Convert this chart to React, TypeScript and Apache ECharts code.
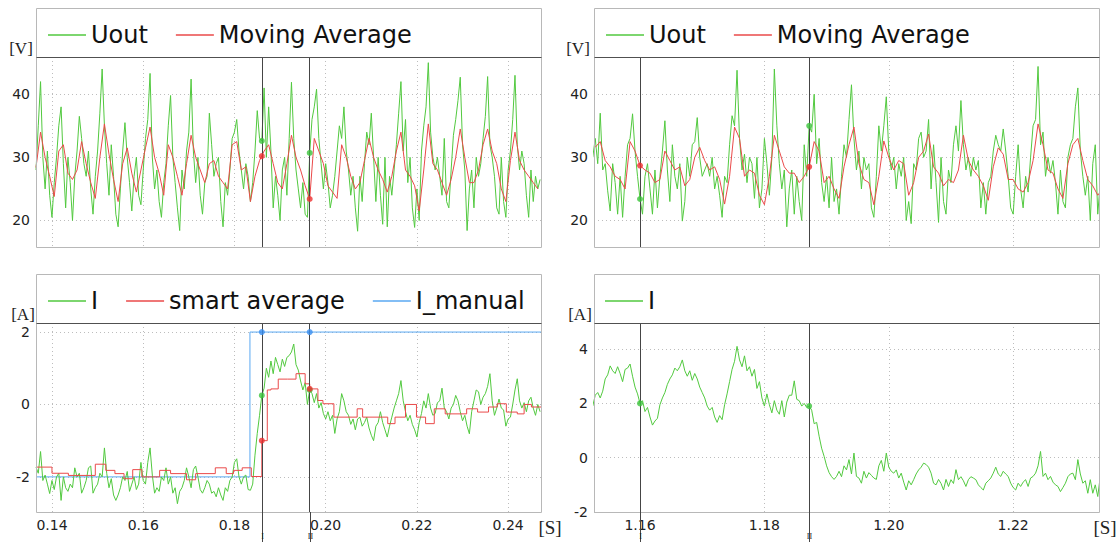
import React, { useEffect, useRef } from "react";
import * as echarts from "echarts";

// ---------- Top-left: Uout / Moving Average (0.1365 .. 0.2472 s) ----------
const uoutLeftStart = 0.1365;
const uoutLeftStep = 0.0005;
const uoutLeft = [
  28, 35, 42, 30, 25, 31, 24, 20.5, 26, 30,
  35, 38, 29, 22, 30, 26, 20, 27, 31, 36.5,
  33, 29, 27, 31, 25, 21, 27, 31, 37, 44,
  35, 29, 24, 32, 27, 21, 19, 25, 31, 35.5,
  30, 26, 21.5, 27, 30, 24, 22.5, 28, 33, 36,
  43.3, 30, 25, 28, 23, 20.5, 26, 29, 35, 39.8,
  30, 26, 22, 18.4, 28, 25, 31, 34, 42.4, 31,
  26, 30, 24, 21, 26, 27, 37, 32, 27, 29,
  30, 23, 19, 26, 24, 28, 33, 34, 36, 31,
  28, 25, 29, 27, 23, 26, 31, 37.4, 33, 32.6,
  41, 30, 38, 31, 22, 27, 24, 20, 28, 30,
  24, 33, 41.9, 33, 28, 25, 22, 26, 21, 20.5,
  30.7, 36, 38, 40.8, 33, 29, 25, 29, 26, 22,
  24, 27, 31, 35, 33, 38, 31, 28, 24, 27,
  22, 18.3, 27, 23, 29, 34, 32, 37, 30, 23,
  30, 24, 19.4, 30, 19, 27, 24, 28, 32, 37,
  42, 31, 36, 26, 30, 22, 18.9, 25, 20, 31,
  35, 38, 45, 34, 30, 28, 30, 27, 24, 33,
  23, 22, 28, 33.5, 36, 39, 42.7, 32, 28, 18.4,
  25, 28, 22, 30, 27, 29, 33, 36.5, 42.8, 32,
  30, 27, 22, 21, 30, 23, 20.5, 28, 31, 36,
  43, 32, 28, 31, 29, 24, 20.5, 28, 23, 27,
  25, 26.5,
];
const maLeftStart = 0.1365;
const maLeftStep = 0.001;
const maLeft = [
  28.4, 34, 30, 27, 23.8, 31, 32, 27.5, 26.5, 28,
  32.5, 29, 26, 23.5, 30, 35.3, 30.5, 26.5, 23, 29,
  31.5, 27.5, 24.5, 28, 31.5, 34.8, 30, 27.5, 24, 32,
  30, 27, 24, 29, 33.5, 30, 28, 26, 29, 29.5,
  27, 26, 25, 32, 32.5, 28, 28.5, 23, 27, 29.5,
  31, 32, 29, 26, 25, 29, 33.5, 30, 28, 25.5,
  23.4, 33, 31, 29, 25.5, 24.5, 23.5, 32, 30, 27,
  25, 26, 29.5, 33, 30, 28, 26.5, 24.5, 27, 31,
  34, 28, 27, 25.5, 21.5, 28, 35.3, 29, 28, 26,
  24, 26.5, 30, 34.5, 30, 26, 26, 28, 32, 34.5,
  31, 29, 25, 23, 29.5, 34, 29.5, 28, 27, 26, 25,
];
const cursorsLeft = [0.186, 0.1965];
const uoutDotsLeft = [32.6, 30.7];
const maDotsLeft = [30.2, 23.4];

// ---------- Top-right: Uout / Moving Average (1.1526 .. 1.2338 s) ----------
const uoutRightStart = 1.1524;
const uoutRightStep = 0.0004;
const uoutRight = [
  30, 33, 29, 37, 28, 29, 24.7, 21.5, 29, 26,
  21, 27, 20.5, 27, 32, 33, 36.9, 31, 27, 23.4,
  21, 27, 29, 25, 21, 28, 22, 27, 31, 35.8,
  28, 23, 32, 27, 25, 29, 19.9, 23, 30, 27,
  32, 32.5, 36.3, 30, 27, 28, 29, 27, 30, 25,
  27, 24, 20.5, 27, 26, 32, 36.6, 35, 43.8, 33,
  28, 30.5, 26, 30, 29, 23.5, 30, 22, 25, 33,
  29, 24, 30, 44, 35, 29, 25, 28, 19, 25,
  28, 21, 27, 23, 20, 32, 27, 35, 34, 40,
  29, 33, 26, 23, 27, 22, 30, 23, 25, 21,
  27, 32, 30, 36, 41.5, 33, 28, 31, 25, 30,
  28, 29, 22, 20.5, 27, 35, 31, 35, 39.6, 31,
  28, 30, 25, 29, 27, 30, 20, 23, 19.5, 29,
  28, 33, 34, 30, 31, 36, 25, 32, 26, 19.7,
  30, 23, 21, 28, 26, 32, 35, 31, 39, 32,
  28, 30, 27, 30, 28, 29.5, 22, 26, 21, 26,
  27, 31, 33.5, 32, 31, 34.5, 31, 27, 22, 21,
  27, 32, 25, 22, 27, 24.5, 30, 35, 36, 44.4,
  32, 34, 27, 30, 27.5, 29.5, 26, 21, 28, 23,
  22, 30, 32, 33, 38, 41, 31, 27, 24, 27,
  20, 29, 32, 21, 26,
];
const maRightStart = 1.1528;
const maRightStep = 0.0008;
const maRight = [
  31.6, 32.5, 29.5, 28.5, 27, 26.5, 25, 32.5, 31, 28.7,
  28, 27.5, 26, 26.5, 31, 29.5, 28, 28.5, 25.5, 26.5,
  30, 31.6, 29.5, 28, 28.5, 26.5, 22.6, 27, 34.8, 33,
  27, 28, 27.5, 24, 22.5, 27, 33.5, 31, 28.5, 27.5,
  27.5, 26, 27, 28.5, 32.5, 31, 26, 27, 25, 23.5,
  28.5, 32, 34.8, 29, 26.5, 26, 22.5, 27, 32.6, 30,
  28, 29.5, 29, 24, 26, 30, 31, 33.7, 28.5, 27.5,
  25.5, 26.5, 26, 28, 33.5, 29.5, 28, 27, 25.5, 23.2,
  28.5, 31.5, 30.5, 26.5, 26.5, 25, 24.5, 26, 29.5, 35.3,
  32, 28, 27.5, 25, 23.5, 29, 32, 33, 29.5, 26.5,
  25.5, 24, 25,
];
const cursorsRight = [1.16, 1.1872];
const uoutDotsRight = [23.4, 35.0];
const maDotsRight = [28.7, 28.5];

// ---------- Bottom-left: I / smart average / I_manual ----------
const iLeftStart = 0.1365;
const iLeftStep = 0.0005;
const iLeft = [
  -1.73, -1.9, -1.3, -2.1, -1.95, -2.2, -2.46, -2.1, -2.35, -2.0,
  -1.9, -2.65, -2.0, -2.3, -2.4, -2.2, -2.3, -1.75, -2.0, -1.9,
  -2.45, -2.3, -2.1, -1.75, -1.7, -2.45, -2.3, -2.2, -1.9, -2.0,
  -1.2, -1.9, -2.3, -2.05, -2.5, -2.65, -2.5, -2.3, -2.0, -2.1,
  -1.85, -2.4, -2.2, -2.0, -2.35, -2.2, -1.6, -2.1, -2.2, -1.6,
  -1.2, -1.95, -2.45, -2.3, -2.4, -2.0, -2.1, -1.75, -2.2, -2.0,
  -2.45, -2.3, -2.74, -2.4, -2.3, -2.1, -1.75, -2.0, -2.3, -1.8,
  -1.7, -2.0, -2.35, -2.45, -2.3, -2.1, -2.2, -2.45, -2.4, -2.55,
  -2.3, -2.5, -2.65, -2.3, -2.4, -2.1, -2.0, -1.6, -1.5, -2.0,
  -2.2, -2.0, -1.95, -2.35, -2.37, -2.2, -1.4, -0.8, -0.3, 0.25,
  0.45, 1.0, 0.75, 1.2, 0.85, 1.3, 1.1, 0.9, 1.25, 1.05,
  1.3, 1.35, 1.45, 1.67, 1.1, 0.95, 0.65, 0.4, 0.6, 0.0,
  0.4, 0.3, 0.05, 0.3, -0.1, 0.05, -0.25, -0.4, -0.2, -0.45,
  -0.3, -0.8, -0.4, -0.2, 0.3, 0.1, -0.2, -0.3, -0.55, -0.4,
  -0.7, -0.4, -0.35, -0.6, -0.5, -0.35, -0.65, -0.85, -1.0, -0.6,
  -0.5, -0.2, -0.5, -0.7, -0.9, -0.6, -0.35, -0.1, 0.1, 0.3,
  0.66, 0.1, -0.2, -0.45, -0.3, -0.55, -0.7, -0.9, -0.5, -0.25,
  0.1, -0.1, 0.3, -0.1, -0.3, -0.25, 0.05, 0.1, 0.45, -0.1,
  -0.2, -0.4, -0.1, 0.0, 0.25, 0.1, -0.2, -0.45, -0.3, -0.6,
  -0.81, -0.2, 0.1, 0.4, 0.35, 0.0, 0.2, 0.3, 0.5, 0.85,
  0.1, -0.3, -0.1, 0.15, -0.1, -0.15, -0.6, -0.4, -0.35, 0.0,
  0.4, 0.71, 0.1, -0.1, 0.05, -0.2, 0.1, 0.2, -0.1, -0.3,
  0.0, -0.2,
];
const smartTimes = [
  0.1365, 0.14, 0.1436, 0.1495, 0.1518, 0.1538, 0.1558, 0.1577, 0.1597, 0.1636,
  0.166, 0.1695, 0.1715, 0.1758, 0.1782, 0.1798, 0.1817, 0.1837, 0.186, 0.1872,
  0.188, 0.1896, 0.1916, 0.1935, 0.1955, 0.1965, 0.1983, 0.1994, 0.2018, 0.2069,
  0.2081, 0.2097, 0.2136, 0.2152, 0.2175, 0.2199, 0.2219, 0.2238, 0.2262, 0.2309,
  0.2333, 0.2357, 0.2376, 0.2396, 0.242, 0.2435, 0.2451, 0.2472,
];
const smartLevels = [
  -1.73, -1.9, -1.96, -1.65, -1.82, -1.91, -2.05, -1.8, -2.0, -1.82,
  -1.91, -2.08, -1.91, -1.75, -1.91, -1.82, -1.75, -1.99, -1.0, 0.4,
  0.43, 0.7, 0.7, 0.85, 0.57, 0.43, 0.11, 0.02, -0.35, -0.12,
  -0.35, -0.35, -0.53, -0.35, 0.0, -0.35, -0.53, -0.12, -0.26, -0.12,
  -0.21, -0.07, 0.02, -0.21, -0.26, 0.0, -0.07, -0.07,
];
const manualTimes = [0.1365, 0.1834, 0.2472];
const manualLevels = [-2, 2, 2];
const iDotsLeft = [0.25, 0.4];
const smartDotsLeft = [-1.0, 0.43];
const manualDotsLeft = [2, 2];

// ---------- Bottom-right: I ----------
const iRightStart = 1.1524;
const iRightStep = 0.0004;
const iRight = [
  1.9, 2.3, 2.4, 2.2, 2.45, 2.9, 3.05, 3.38, 3.2, 3.1,
  3.35, 3.1, 2.8, 3.25, 3.3, 3.45, 3.0, 2.6, 2.35, 2.0,
  2.1, 1.7, 1.85, 1.5, 1.2, 1.35, 1.45, 1.95, 2.2, 2.4,
  2.7, 2.9, 3.05, 3.3, 3.2, 3.35, 3.6, 3.2, 3.0, 3.2,
  2.85, 3.1, 2.9, 2.6, 2.4, 2.2, 1.9, 1.75, 1.85, 1.5,
  1.3, 1.55, 1.4, 1.95, 2.35, 2.8, 3.25, 3.55, 4.1, 3.6,
  3.35, 3.75, 3.2, 3.35, 3.0, 3.25, 2.55, 2.8, 2.2, 1.9,
  2.35, 1.95, 1.65, 2.1, 1.75, 1.6, 2.1, 1.5, 2.05, 2.3,
  2.3, 2.83, 2.15, 2.1, 1.9, 2.0, 1.85, 1.9, 1.75, 1.25,
  1.3, 0.79, 0.35, 0.05, -0.3, -0.55, -0.7, -0.8, -0.69, -0.5,
  -0.7, -0.3, -0.45, -0.07, -0.6, 0.17, -0.69, -0.75, -0.94, -0.5,
  -0.75, -0.55, -0.65, -0.75, -0.8, -0.3, -0.1, -0.5, 0.17, -0.35,
  -0.5, -0.57, -0.45, -0.75, -0.57, -0.9, -1.19, -0.85, -1.0, -0.81,
  -0.6, -0.45, -0.35, -0.2, -0.25, -0.35, -0.57, -0.94, -1.0, -0.8,
  -0.95, -1.19, -0.8, -1.06, -0.81, -0.95, -0.44, -0.81, -0.7, -0.85,
  -1.06, -0.81, -0.7, -0.75, -0.81, -1.0, -1.1, -1.19, -0.94, -0.85,
  -0.75, -0.57, -0.35, -0.6, -0.69, -0.5, -0.6, -0.69, -0.94, -1.1,
  -1.19, -0.94, -1.06, -0.9, -0.81, -1.06, -0.75, -0.69, -0.57, -0.3,
  0.23, -0.69, -0.57, -0.81, -0.69, -0.9, -1.0, -1.06, -1.25, -1.1,
  -0.94, -0.7, -0.6, -0.57, -0.81, -0.07, -0.6, -0.94, -0.85, -1.31,
  -0.81, -1.31, -1.0, -1.43, -0.7,
];
const iDotsRight = [2.0, 1.9];

// ---------- Axis ticks ----------
const xTicksLeft = [0.14, 0.16, 0.18, 0.2, 0.22, 0.24];
const xTicksRight = [1.16, 1.18, 1.2, 1.22];
const yTicksU = [20, 30, 40];
const yTicksILeft = [-2, 0, 2];
const yTicksIRight = [-2, 0, 2, 4];

const GREEN = "#52c93f";
const RED = "#ea4a4a";
const BLUE = "#5aa8f2";
const CURSOR = "#454545";
const SANS = '"DejaVu Sans", Verdana, sans-serif';
const SERIF = '"Liberation Serif", "DejaVu Serif", serif';

const sampled = (start: number, step: number, vals: number[]) =>
  vals.map((v, i) => [+(start + i * step).toFixed(6), v]);
const paired = (xs: number[], ys: number[]) => xs.map((x, i) => [x, ys[i]]);

const lineSeries = (name: string, idx: number, data: number[][], color: string, extra: any = {}) => ({
  type: "line",
  name,
  xAxisIndex: idx,
  yAxisIndex: idx,
  data,
  showSymbol: false,
  symbol: "none",
  lineStyle: { color, width: 1 },
  itemStyle: { color },
  clip: true,
  silent: true,
  ...extra,
});

const cursorMarks = (times: number[]) => ({
  silent: true,
  precision: 6,
  symbol: ["none", "none"],
  label: { show: false },
  lineStyle: { color: CURSOR, width: 1, type: "solid" },
  data: times.map((t) => ({ xAxis: t })),
});

const dots = (idx: number, xs: number[], ys: number[], color: string) => ({
  type: "scatter",
  name: "cursor",
  xAxisIndex: idx,
  yAxisIndex: idx,
  data: paired(xs, ys),
  symbolSize: 6,
  itemStyle: { color },
  silent: true,
  z: 5,
});

const xAxisCfg = (idx: number, min: number, max: number, ticks: number[], showLabels: boolean) => ({
  type: "value",
  gridIndex: idx,
  min,
  max,
  axisLine: { show: false },
  axisTick: { show: false, customValues: ticks },
  axisLabel: {
    show: showLabels,
    customValues: ticks,
    formatter: (v: number) => v.toFixed(2),
    fontSize: 14,
    fontFamily: SANS,
    color: "#222",
    margin: 6,
  },
  splitLine: { show: true, lineStyle: { color: "#bdbdbd", type: [1, 3], width: 1 } },
});

const yAxisCfg = (idx: number, min: number, max: number, ticks: number[]) => ({
  type: "value",
  gridIndex: idx,
  min,
  max,
  axisLine: { show: false },
  axisTick: { show: false, customValues: ticks },
  axisLabel: {
    customValues: ticks,
    fontSize: 14,
    fontFamily: SANS,
    color: "#222",
    margin: 6,
  },
  splitLine: { show: true, lineStyle: { color: "#bdbdbd", type: [1, 3], width: 1 } },
});

const legendCfg = (left: number, top: number, data: string[]) => ({
  left,
  top,
  orient: "horizontal",
  data,
  icon: "path://M0,0 L33,0 L33,1.4 L0,1.4 Z",
  itemWidth: 38,
  itemHeight: 14,
  itemGap: 28,
  selectedMode: false,
  textStyle: { fontSize: 24, fontFamily: SANS, color: "#111" },
});

const textEl = (text: string, x: number, y: number, size: number, family: string, vAlign = "middle") => ({
  type: "text",
  x,
  y,
  silent: true,
  z: 20,
  style: { text, fill: "#222", fontSize: size, fontFamily: family, align: "center", verticalAlign: vAlign },
});

const frame = (x: number, y: number, w: number, h: number, sepY: number) => [
  {
    type: "rect",
    silent: true,
    z: 20,
    shape: { x: x + 0.5, y: y + 0.5, width: w, height: h },
    style: { fill: "none", stroke: "#b8b8b8", lineWidth: 1 },
  },
  {
    type: "line",
    silent: true,
    z: 20,
    shape: { x1: x + 0.5, y1: sepY + 0.5, x2: x + w + 0.5, y2: sepY + 0.5 },
    style: { stroke: "#505050", lineWidth: 1 },
  },
];

export default function App() {
  const ref = useRef<HTMLDivElement>(null);

  useEffect(() => {
    if (!ref.current) return;
    const chart = echarts.init(ref.current, undefined, { renderer: "svg" });

    const staticGraphics: any[] = [
      ...frame(36, 8, 505, 239, 57),
      ...frame(594, 8, 505, 239, 57),
      ...frame(36, 274, 505, 238, 323),
      ...frame(594, 274, 505, 238, 323),
      textEl("[V]", 21, 48, 17, SERIF),
      textEl("[V]", 578, 48, 17, SERIF),
      textEl("[A]", 23, 314, 17, SERIF),
      textEl("[A]", 580, 314, 17, SERIF),
      textEl("[S]", 550, 527, 19, SERIF),
      textEl("[S]", 1105, 527, 19, SERIF),
    ];

    chart.setOption({
      animation: false,
      backgroundColor: "#ffffff",
      grid: [
        { left: 36, top: 57, width: 505, height: 190 },
        { left: 594, top: 57, width: 505, height: 190 },
        { left: 36, top: 323, width: 505, height: 189 },
        { left: 594, top: 323, width: 505, height: 189 },
      ],
      xAxis: [
        xAxisCfg(0, 0.1365, 0.2472, xTicksLeft, false),
        xAxisCfg(1, 1.1526, 1.2338, xTicksRight, false),
        xAxisCfg(2, 0.1365, 0.2472, xTicksLeft, true),
        xAxisCfg(3, 1.1526, 1.2338, xTicksRight, true),
      ],
      yAxis: [
        yAxisCfg(0, 15.8, 45.9, yTicksU),
        yAxisCfg(1, 15.8, 45.9, yTicksU),
        yAxisCfg(2, -2.97, 2.25, yTicksILeft),
        yAxisCfg(3, -2.0, 4.96, yTicksIRight),
      ],
      legend: [
        legendCfg(43, 18, ["Uout", "Moving Average"]),
        legendCfg(601, 18, ["Uout", "Moving Average"]),
        legendCfg(43, 284, ["I", "smart average", "I_manual"]),
        legendCfg(600, 284, ["I"]),
      ],
      series: [
        lineSeries("Uout", 0, sampled(uoutLeftStart, uoutLeftStep, uoutLeft), GREEN, {
          markLine: cursorMarks(cursorsLeft),
        }),
        lineSeries("Moving Average", 0, sampled(maLeftStart, maLeftStep, maLeft), RED),
        dots(0, cursorsLeft, uoutDotsLeft, "#3cc43c"),
        dots(0, cursorsLeft, maDotsLeft, "#ee3030"),

        lineSeries("Uout", 1, sampled(uoutRightStart, uoutRightStep, uoutRight), GREEN, {
          markLine: cursorMarks(cursorsRight),
        }),
        lineSeries("Moving Average", 1, sampled(maRightStart, maRightStep, maRight), RED),
        dots(1, cursorsRight, uoutDotsRight, "#3cc43c"),
        dots(1, cursorsRight, maDotsRight, "#ee3030"),

        lineSeries("I_manual", 2, paired(manualTimes, manualLevels), BLUE, { step: "end" }),
        lineSeries("I", 2, sampled(iLeftStart, iLeftStep, iLeft), GREEN, {
          markLine: cursorMarks(cursorsLeft),
        }),
        lineSeries("smart average", 2, paired(smartTimes, smartLevels), RED, { step: "end" }),
        dots(2, cursorsLeft, manualDotsLeft, "#3a8ff0"),
        dots(2, cursorsLeft, iDotsLeft, "#3cc43c"),
        dots(2, cursorsLeft, smartDotsLeft, "#ee3030"),

        lineSeries("I", 3, sampled(iRightStart, iRightStep, iRight), GREEN, {
          markLine: cursorMarks(cursorsRight),
        }),
        dots(3, cursorsRight, iDotsRight, "#3cc43c"),
      ],
      graphic: staticGraphics,
    });

    // cursor extensions below the lower plots and their I / II tags
    const extras: any[] = [];
    const addCursorTail = (axisIdx: number, times: number[]) => {
      times.forEach((t, k) => {
        const px = Math.round(chart.convertToPixel({ xAxisIndex: axisIdx }, t) as number) + 0.5;
        extras.push({
          type: "line",
          silent: true,
          z: 20,
          shape: { x1: px, y1: 512, x2: px, y2: 542 },
          style: { stroke: CURSOR, lineWidth: 1 },
        });
        extras.push(textEl(k === 0 ? "I" : "II", px, 532, 8, SERIF, "top"));
      });
    };
    addCursorTail(2, cursorsLeft);
    addCursorTail(3, cursorsRight);
    chart.setOption({ graphic: [...staticGraphics, ...extras] });

    return () => chart.dispose();
  }, []);

  return (
    <div
      ref={ref}
      style={{ position: "fixed", left: 0, top: 0, width: 1120, height: 542, background: "#fff" }}
    />
  );
}
